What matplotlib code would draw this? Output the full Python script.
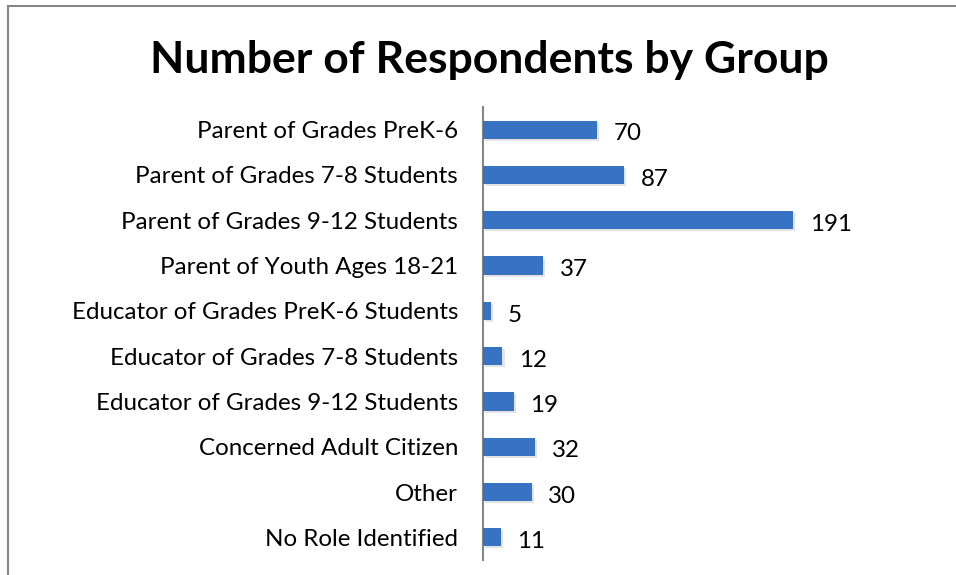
import matplotlib.pyplot as plt
import matplotlib.patheffects as pe
from matplotlib.patches import Rectangle

groups = ['Parent of Grades PreK-6', 'Parent of Grades 7-8 Students',
          'Parent of Grades 9-12 Students', 'Parent of Youth Ages 18-21',
          'Educator of Grades PreK-6 Students', 'Educator of Grades 7-8 Students',
          'Educator of Grades 9-12 Students', 'Concerned Adult Citizen',
          'Other', 'No Role Identified']
counts = [70, 87, 191, 37, 5, 12, 19, 32, 30, 11]

plt.rcParams['font.family'] = ['Lato', 'DejaVu Sans']

fig = plt.figure(figsize=(9.56, 5.75), dpi=100)
W, H = 956, 575

# outer chart border (top and left visible)
fig.patches.append(Rectangle((8 / W, -0.1), 1.2, (H - 6) / H + 0.1,
                             transform=fig.transFigure, fill=False,
                             edgecolor='#868686', linewidth=1.5))

ax = fig.add_axes([483 / W, 15 / H, 417 / W, 453 / H])
y = list(range(len(groups)))
bars = ax.barh(y, counts, height=0.4, color='#3873C3', zorder=3)
for b in bars:
    b.set_path_effects([pe.SimplePatchShadow(offset=(1.5, -1.5), shadow_rgbFace='#c8c8c8', alpha=0.5),
                        pe.Normal()])

ax.set_ylim(len(groups) - 0.5, -0.5)
ax.set_xlim(0, 417 / (310 / 191))
ax.set_yticks(y)
ax.set_yticklabels(groups, fontsize=17.4)
ax.tick_params(axis='y', length=0, pad=18)
ax.set_xticks([])
for s in ['top', 'right', 'bottom']:
    ax.spines[s].set_visible(False)
ax.spines['left'].set_color('#868686')
ax.spines['left'].set_linewidth(1.5)

for b, v in zip(bars, counts):
    ax.annotate(str(v), (b.get_width(), b.get_y() + b.get_height() / 2),
                xytext=(12, -3), textcoords='offset points',
                va='center', ha='left', fontsize=17.4)

fig.text(489 / W, 1 - 60 / H, 'Number of Respondents by Group',
         ha='center', va='center', fontsize=32, fontweight='bold')

fig.savefig('out.png', dpi=100)
